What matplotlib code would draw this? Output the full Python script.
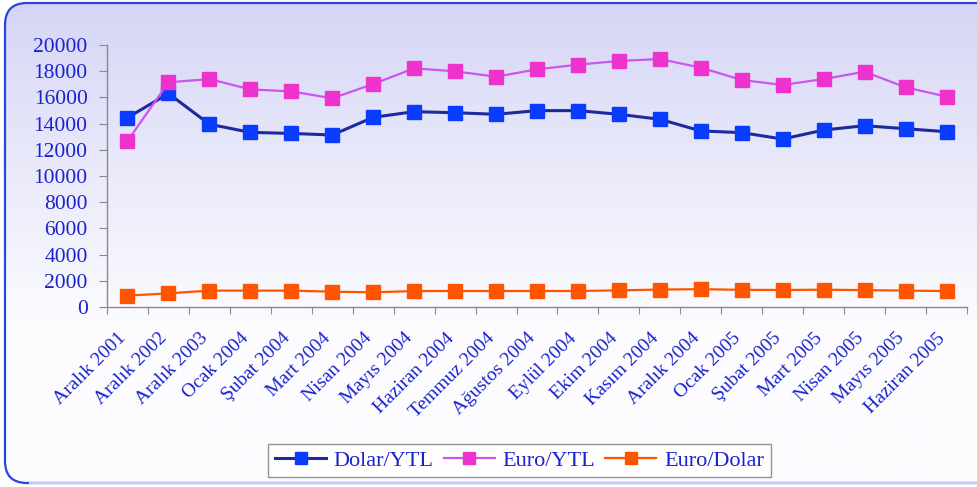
import matplotlib
matplotlib.use("Agg")
import matplotlib.pyplot as plt
import matplotlib.transforms as mtransforms
import numpy as np
from matplotlib.patches import FancyBboxPatch

categories = ["Aralık 2001", "Aralık 2002", "Aralık 2003", "Ocak 2004", "Şubat 2004",
              "Mart 2004", "Nisan 2004", "Mayıs 2004", "Haziran 2004", "Temmuz 2004",
              "Ağustos 2004", "Eylül 2004", "Ekim 2004", "Kasım 2004", "Aralık 2004",
              "Ocak 2005", "Şubat 2005", "Mart 2005", "Nisan 2005", "Mayıs 2005",
              "Haziran 2005"]
dolar_ytl = [14450, 16300, 13950, 13330, 13250, 13130, 14480, 14910, 14830, 14710,
             14990, 14990, 14710, 14330, 13440, 13310, 12820, 13510, 13840, 13610, 13380]
euro_ytl = [12670, 17150, 17400, 16610, 16460, 15930, 17020, 18220, 17990, 17580,
            18140, 18500, 18780, 18930, 18270, 17330, 16950, 17400, 17960, 16770, 16060]
euro_dolar = [870, 1040, 1250, 1250, 1250, 1170, 1120, 1220, 1220, 1220,
              1220, 1220, 1270, 1330, 1360, 1310, 1300, 1320, 1290, 1250, 1220]
yticks = [0, 2000, 4000, 6000, 8000, 10000, 12000, 14000, 16000, 18000, 20000]

W, H = 978, 487
fig = plt.figure(figsize=(W / 100, H / 100), dpi=100)

# background frame with gradient
bg = fig.add_axes([0, 0, 1, 1], zorder=-10)
bg.set_xlim(0, W)
bg.set_ylim(H, 0)
bg.axis("off")
grad = np.linspace(0, 1, 256)[:, None]
top = np.array([212, 212, 246]) / 255
bot = np.array([252, 252, 255]) / 255
t = np.clip(grad / 0.68, 0, 1) ** 0.9
img = top[None, None, :] * (1 - t[..., None]) + bot[None, None, :] * t[..., None]
img = np.repeat(img, 2, axis=1)
im = bg.imshow(img, extent=[5, 1000, 483, 3], aspect="auto", zorder=0)
frame = FancyBboxPatch((5, 3), 1000, 480, boxstyle="round,pad=0,rounding_size=22",
                       facecolor="none", edgecolor="#2a45dd", linewidth=1.6, zorder=2)
bg.add_patch(frame)
im.set_clip_path(frame)
bg.plot([30, 978], [483, 483], color="#c4caf2", lw=1.6, zorder=3)

ax = fig.add_axes([107 / W, (H - 307) / H, (967 - 107) / W, (307 - 45) / H])
ax.patch.set_alpha(0)
x = np.arange(len(categories))

ax.plot(x, dolar_ytl, color="#1c2aa0", lw=2.2, marker="s", markersize=10.5,
        markerfacecolor="#0a3cff", markeredgecolor="#0a3cff", label="Dolar/YTL", zorder=3)
ax.plot(x, euro_ytl, color="#cc55ee", lw=1.6, marker="s", markersize=10.5,
        markerfacecolor="#ee33cc", markeredgecolor="#ee33cc", label="Euro/YTL", zorder=3)
ax.plot(x, euro_dolar, color="#ff5500", lw=1.6, marker="s", markersize=10.5,
        markerfacecolor="#ff5500", markeredgecolor="#ff5500", label="Euro/Dolar", zorder=3)

ax.set_xlim(-0.5, len(categories) - 0.5)
ax.set_ylim(0, 20000)
for s in ["top", "right"]:
    ax.spines[s].set_visible(False)
for s in ["left", "bottom"]:
    ax.spines[s].set_color("#8a8a8a")
    ax.spines[s].set_linewidth(1.0)

serif = ["Liberation Serif", "DejaVu Serif"]
blue = "#1a22cc"
ax.set_yticks(yticks)
ax.set_yticklabels([str(v) for v in yticks], fontsize=15.5, color=blue, family=serif)
ax.tick_params(axis="y", direction="out", length=6, color="#8a8a8a", pad=8)

ax.set_xticks(np.arange(-0.5, len(categories), 1.0))
ax.set_xticklabels([])
ax.tick_params(axis="x", which="major", direction="out", length=5, color="#8a8a8a")
ax.set_xticks(x, minor=True)
ax.set_xticklabels(categories, minor=True, rotation=45, ha="right",
                   rotation_mode="anchor", fontsize=14, color=blue, family=serif)
ax.tick_params(axis="x", which="minor", length=0, pad=12)
offset = mtransforms.ScaledTranslation(-10 / 100, -6 / 100, fig.dpi_scale_trans)
for lab in ax.get_xticklabels(minor=True):
    lab.set_transform(lab.get_transform() + offset)

leg = fig.legend(handles=ax.get_lines(), loc="center", ncol=3,
                 bbox_to_anchor=(519.5 / W, 1 - 460.5 / H), frameon=True, fancybox=False,
                 prop={"family": serif, "size": 16}, labelcolor=blue,
                 handlelength=2.3, handletextpad=0.35, columnspacing=0.45,
                 borderpad=0.3, borderaxespad=0, edgecolor="#7a7a7a", markerscale=0.8)
leg.get_frame().set_linewidth(1.0)
leg.get_frame().set_facecolor("white")

fig.savefig("out.png", dpi=100)
